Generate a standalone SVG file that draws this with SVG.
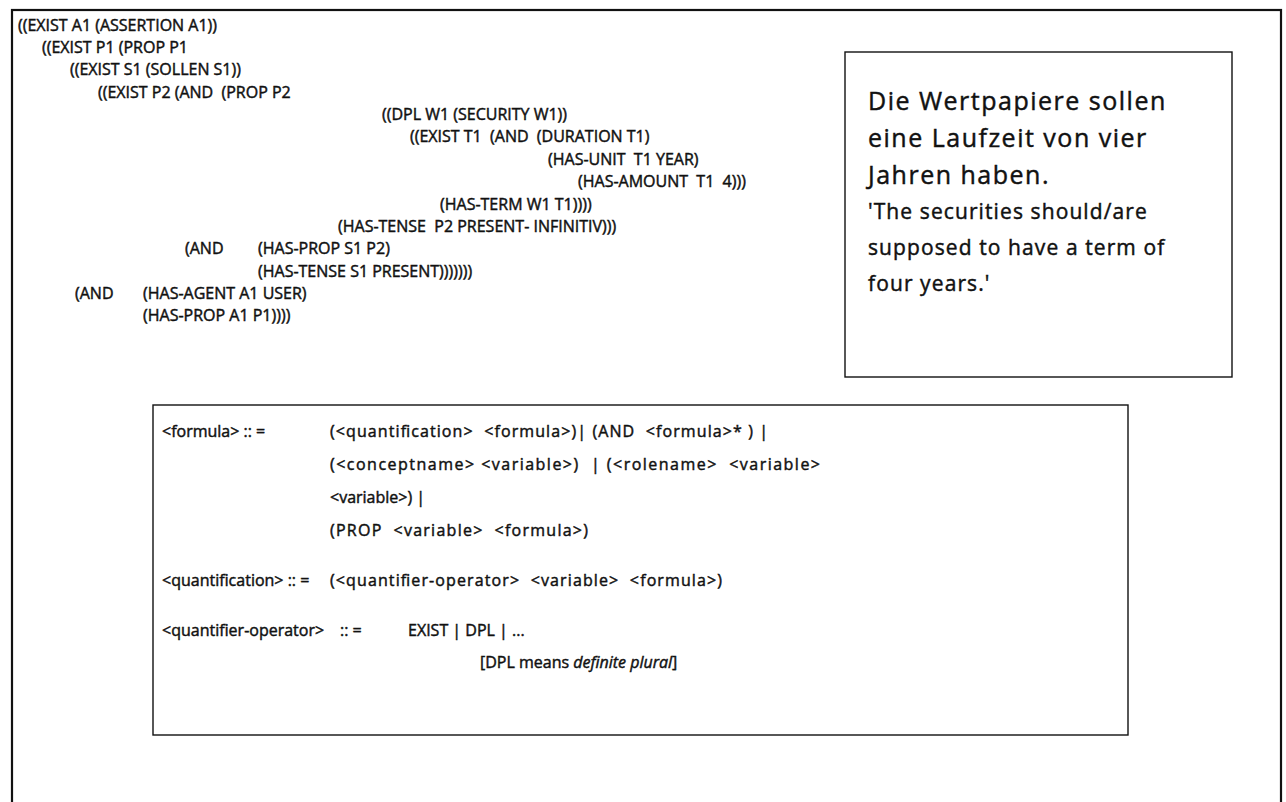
<svg xmlns="http://www.w3.org/2000/svg" width="1286" height="802" viewBox="0 0 1286 802">
<style>
.t{font-family:"Open Sans","Noto Sans","Liberation Sans",sans-serif;fill:#111;stroke:#111;stroke-width:0.45}
.c{font-size:16px}
.g{font-size:25px;letter-spacing:1.5px}
.e{font-size:21px;letter-spacing:1.1px}
.f{font-size:16px}
.box{fill:none;stroke:#111;stroke-width:1.4}
.frame{fill:none;stroke:#111;stroke-width:2.2}
</style>
<rect width="1286" height="802" fill="#fff"/>
<rect class="frame" x="12" y="10" width="1269" height="830"/>
<g id="code" class="t c">
<text x="18" y="31">((EXIST A1 (ASSERTION A1))</text>
<text x="42" y="53">((EXIST P1 (PROP P1</text>
<text x="70" y="75">((EXIST S1 (SOLLEN S1))</text>
<text x="98" y="98" xml:space="preserve">((EXIST P2 (AND  (PROP P2</text>
<text x="382" y="120">((DPL W1 (SECURITY W1))</text>
<text x="410" y="142" xml:space="preserve">((EXIST T1  (AND  (DURATION T1)</text>
<text x="548" y="165" xml:space="preserve">(HAS-UNIT  T1 YEAR)</text>
<text x="578" y="187" xml:space="preserve">(HAS-AMOUNT  T1  4)))</text>
<text x="440" y="210">(HAS-TERM W1 T1))))</text>
<text x="338" y="232" xml:space="preserve">(HAS-TENSE  P2 PRESENT- INFINITIV)))</text>
<text x="185" y="254">(AND</text>
<text x="258" y="254">(HAS-PROP S1 P2)</text>
<text x="258" y="277">(HAS-TENSE S1 PRESENT)))))))</text>
<text x="75" y="299">(AND</text>
<text x="143" y="299">(HAS-AGENT A1 USER)</text>
<text x="143" y="321">(HAS-PROP A1 P1))))</text>
</g>
<g id="sentence">
<rect class="box" x="845" y="52" width="387" height="325"/>
<g class="t">
<text class="g" x="868" y="110">Die Wertpapiere sollen</text>
<text class="g" x="868" y="147">eine Laufzeit von vier</text>
<text class="g" x="868" y="184">Jahren haben.</text>
<text class="e" x="868" y="219">'The securities should/are</text>
<text class="e" x="868" y="255">supposed to have a term of</text>
<text class="e" x="868" y="291">four years.'</text>
</g>
</g>
<g id="grammar">
<rect class="box" x="153" y="405" width="975" height="330"/>
<g class="t f">
<text x="162" y="437">&lt;formula&gt; :: =</text>
<text x="330" y="437" xml:space="preserve" textLength="438" lengthAdjust="spacing">(&lt;quantification&gt;  &lt;formula&gt;)| (AND  &lt;formula&gt;* ) |</text>
<text x="330" y="470" xml:space="preserve" textLength="490" lengthAdjust="spacing">(&lt;conceptname&gt; &lt;variable&gt;)  | (&lt;rolename&gt;  &lt;variable&gt;</text>
<text x="330" y="503">&lt;variable&gt;) |</text>
<text x="330" y="536" xml:space="preserve" textLength="258" lengthAdjust="spacing">(PROP  &lt;variable&gt;  &lt;formula&gt;)</text>
<text x="162" y="586">&lt;quantification&gt; :: =</text>
<text x="330" y="586" xml:space="preserve" textLength="392" lengthAdjust="spacing">(&lt;quantifier-operator&gt;  &lt;variable&gt;  &lt;formula&gt;)</text>
<text x="162" y="636">&lt;quantifier-operator&gt;</text>
<text x="340" y="636">:: =</text>
<text x="408" y="636">EXIST | DPL | ...</text>
<text x="480" y="668">[DPL means <tspan font-style="italic">definite plural</tspan>]</text>
</g>
</g>
</svg>
